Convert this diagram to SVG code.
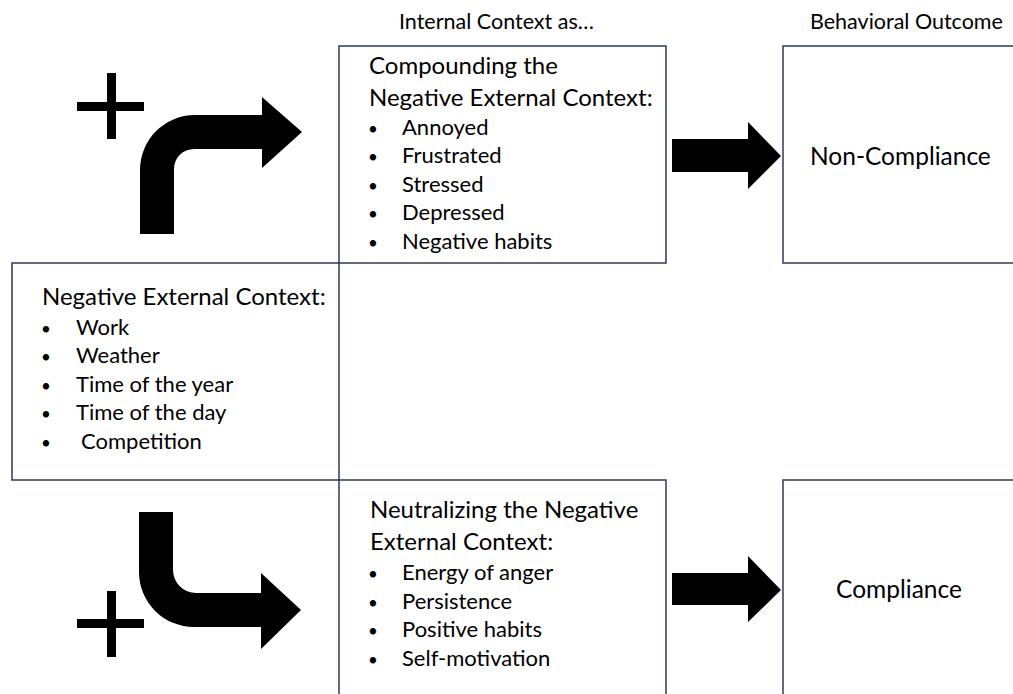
<svg xmlns="http://www.w3.org/2000/svg" width="1013" height="694" viewBox="0 0 1013 694">
<style>
.box{fill:#fff;stroke:#2c3a57;stroke-width:1.5}
.ti{font-family:Lato,"Open Sans",sans-serif;font-size:24px;fill:#000}
.t{font-family:Lato,"Open Sans",sans-serif;font-size:22px;fill:#000}
.b{font-family:Lato,"Open Sans",sans-serif;font-size:17px;fill:#000;text-anchor:middle}
.o{font-family:Lato,"Open Sans",sans-serif;font-size:24.5px;fill:#000}
.h{font-family:Lato,"Open Sans",sans-serif;font-size:21.5px;fill:#000}
.blk{fill:#000}
</style>
<rect width="1013" height="694" fill="#fff"/>
<text class="h" x="399" y="29">Internal Context as…</text>
<text class="h" x="810" y="29">Behavioral Outcome</text>

<g id="external">
<rect class="box" x="12" y="263" width="327" height="217"/>
<text class="ti" x="42" y="305">Negative External Context:</text>
<text class="b" x="46" y="335">•</text><text class="t" x="76" y="335">Work</text>
<text class="b" x="46" y="363">•</text><text class="t" x="76" y="363">Weather</text>
<text class="b" x="46" y="392">•</text><text class="t" x="76" y="392">Time of the year</text>
<text class="b" x="46" y="420">•</text><text class="t" x="76" y="420">Time of the day</text>
<text class="b" x="46" y="449">•</text><text class="t" x="81" y="449">Competition</text>
</g>

<g id="compounding">
<rect class="box" x="339" y="46" width="327" height="217"/>
<text class="ti" x="369" y="74">Compounding the</text>
<text class="ti" x="369" y="106">Negative External Context:</text>
<text class="b" x="373" y="135">•</text><text class="t" x="402" y="135">Annoyed</text>
<text class="b" x="373" y="163">•</text><text class="t" x="402" y="163">Frustrated</text>
<text class="b" x="373" y="192">•</text><text class="t" x="402" y="192">Stressed</text>
<text class="b" x="373" y="220">•</text><text class="t" x="402" y="220">Depressed</text>
<text class="b" x="373" y="249">•</text><text class="t" x="402" y="249">Negative habits</text>
</g>

<g id="noncompliance">
<rect class="box" x="783" y="46" width="240" height="217"/>
<text class="o" x="810" y="165">Non-Compliance</text>
</g>

<g id="neutralizing">
<rect class="box" x="339" y="480" width="327" height="230"/>
<text class="ti" x="370" y="518">Neutralizing the Negative</text>
<text class="ti" x="370" y="550">External Context:</text>
<text class="b" x="373" y="580">•</text><text class="t" x="402" y="580">Energy of anger</text>
<text class="b" x="373" y="609">•</text><text class="t" x="402" y="609">Persistence</text>
<text class="b" x="373" y="637">•</text><text class="t" x="402" y="637">Positive habits</text>
<text class="b" x="373" y="666">•</text><text class="t" x="402" y="666">Self-motivation</text>
</g>

<g id="compliance">
<rect class="box" x="783" y="480" width="240" height="230"/>
<text class="o" x="899" y="598" text-anchor="middle">Compliance</text>
</g>

<g id="connectors">
<rect class="blk" x="77" y="102" width="67" height="9"/>
<rect class="blk" x="107" y="73" width="9" height="66"/>
<path class="blk" d="M140,234 L140,170 A55,55 0 0 1 195,115 L262,115 L262,97 L302,132 L262,168 L262,149 L194,149 A20,20 0 0 0 174,169 L174,234 Z"/>
<rect class="blk" x="77" y="619" width="67" height="9"/>
<rect class="blk" x="107" y="591" width="9" height="66"/>
<path class="blk" d="M139,512 L173,512 L173,570 A23,23 0 0 0 196,593 L261,593 L261,573 L301,610 L261,649 L261,627 L194,627 A55,55 0 0 1 139,572 Z"/>
<path class="blk" d="M672,139 L748,139 L748,122 L781,156 L748,189 L748,172 L672,172 Z"/>
<path class="blk" d="M672,573 L748,573 L748,556 L781,590 L748,622 L748,605 L672,605 Z"/>
</g>
</svg>
